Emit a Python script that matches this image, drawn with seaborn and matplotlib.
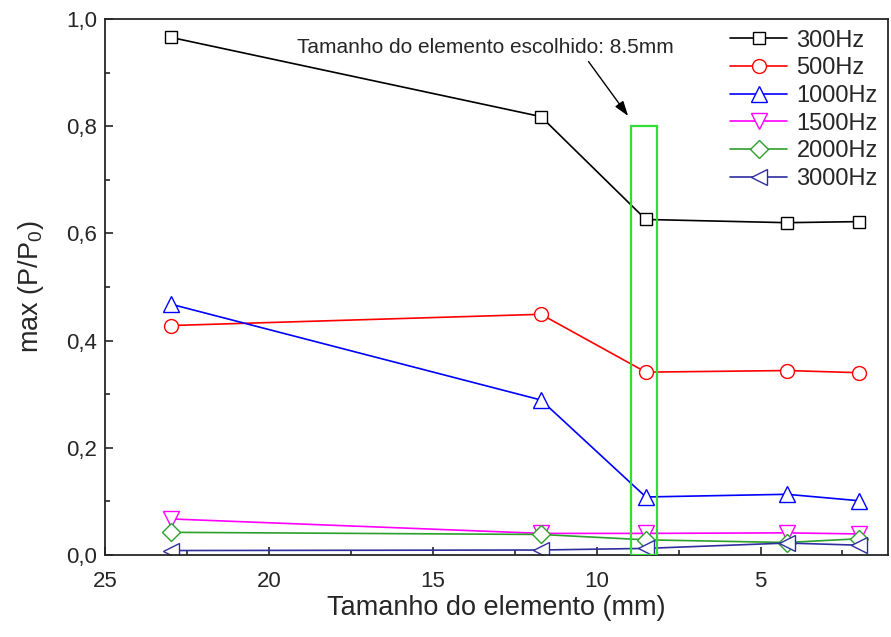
import numpy as np
import pandas as pd
import seaborn as sns
import matplotlib.pyplot as plt
from matplotlib.patches import Rectangle
from matplotlib.ticker import MultipleLocator, FuncFormatter

# element size (mm)
tamanho = [23.0, 11.7, 8.5, 4.2, 2.0]

freq_labels = ["300Hz", "500Hz", "1000Hz", "1500Hz", "2000Hz", "3000Hz"]
p300 = [0.966, 0.818, 0.626, 0.620, 0.622]
p500 = [0.428, 0.449, 0.341, 0.344, 0.340]
p1000 = [0.468, 0.289, 0.108, 0.113, 0.101]
p1500 = [0.067, 0.040, 0.040, 0.041, 0.039]
p2000 = [0.042, 0.038, 0.028, 0.023, 0.030]
p3000 = [0.008, 0.009, 0.012, 0.022, 0.018]

series = [p300, p500, p1000, p1500, p2000, p3000]

sns.set_style("ticks")
plt.rcParams['font.family'] = ['Liberation Sans', 'DejaVu Sans']
plt.rcParams['mathtext.fontset'] = 'custom'
plt.rcParams['mathtext.rm'] = 'Liberation Sans'
plt.rcParams['mathtext.it'] = 'Liberation Sans'

fig = plt.figure(figsize=(8.91, 6.37), dpi=100)
ax = fig.add_axes([0.118, 0.129, 0.879, 0.841])

markers = ['s', 'o', '^', 'v', 'D', '<']
colors = ['black', 'red', 'blue', 'magenta', '#2ca02c', '#2e2e9e']
sizes = [9, 10, 11, 11, 9, 11]

for i in range(len(series)):
    sns.lineplot(x=tamanho, y=series[i], ax=ax, color=colors[i], marker=markers[i],
                 markersize=sizes[i], markerfacecolor='white', markeredgecolor=colors[i],
                 markeredgewidth=1.0, linewidth=1.2, label=freq_labels[i], sort=False)

# chosen element highlight
ax.add_patch(Rectangle((8.17, 0.0), 0.79, 0.80, fill=False, edgecolor='#33dd33',
                       linewidth=1.6, zorder=5))
ax.text(13.4, 0.947, "Tamanho do elemento escolhido: 8.5mm", ha='center', va='center',
        fontsize=15)
ax.annotate("", xy=(8.99, 0.815), xytext=(10.3, 0.925),
            arrowprops=dict(arrowstyle='-|>,head_length=0.9,head_width=0.3',
                            color='black', lw=1.0))

ax.set_xlim(25, 1.1)
ax.set_ylim(0, 1.0)
ax.xaxis.set_major_locator(MultipleLocator(5))
ax.xaxis.set_minor_locator(MultipleLocator(2.5))
ax.yaxis.set_major_locator(MultipleLocator(0.2))
ax.yaxis.set_minor_locator(MultipleLocator(0.1))
ax.yaxis.set_major_formatter(FuncFormatter(lambda v, p: f"{v:.1f}".replace('.', ',')))
ax.xaxis.set_major_formatter(FuncFormatter(lambda v, p: f"{v:.0f}"))
ax.tick_params(which='major', direction='in', length=6, width=1.2, labelsize=16)
ax.tick_params(which='minor', direction='in', length=3.5, width=1.2)
ax.tick_params(axis='x', which='major', pad=12)
ax.tick_params(axis='y', which='major', pad=6)
for s in ax.spines.values():
    s.set_linewidth(1.3)
    s.set_visible(True)

ax.set_xlabel("Tamanho do elemento (mm)", fontsize=19.5, labelpad=2)
ax.set_ylabel("max (P/P$_0$)", fontsize=19.5, labelpad=14)

ax.legend(loc='upper right', frameon=False, fontsize=17, handlelength=2.4,
          borderaxespad=0.05, labelspacing=0.24, handletextpad=0.4)

plt.savefig("out.png", dpi=100)
